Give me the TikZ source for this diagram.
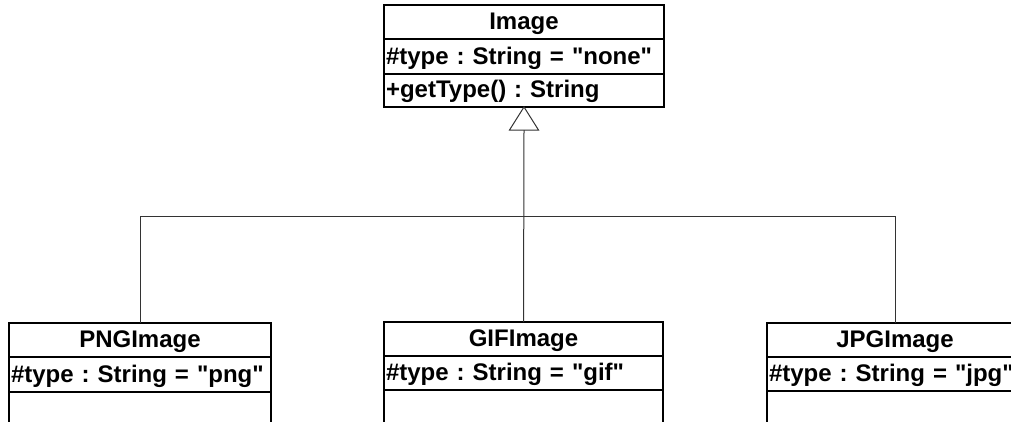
\documentclass[tikz,border=0pt]{standalone}
\usepackage{fontspec}
\setmainfont{Liberation Sans}[Ligatures=TeXOff]
\newcommand{\qq}{\symbol{34}}
\begin{document}
\begin{tikzpicture}[x=1pt,y=-1pt,
  row/.style={draw=black, line width=1.3pt, anchor=north west, inner xsep=2pt, inner ysep=0pt, outer sep=0pt,
    font=\fontsize{24}{26}\selectfont\bfseries\frenchspacing, text depth=9.5pt},
  titlerow/.style={row, align=center},
  attrrow/.style={row, align=left},
  conn/.style={draw=black!80, line width=1pt}]
\useasboundingbox (0,0) rectangle (1011,421);
% Image
\node[titlerow, text width=276pt, text height=24.5pt] (imgname) at (384,5) {Image};
\node[attrrow, text width=276pt, text height=25.5pt] (imgattr) at (imgname.south west) {\#type : String = \qq none\qq};
\node[attrrow, text width=276pt, text height=23.5pt] (imgop) at (imgattr.south west) {+getType() : String};
% PNG
\node[titlerow, text width=258pt, text height=24.5pt] (pngname) at (9,323) {PNGImage};
\node[attrrow, text width=258pt, text height=25.5pt] (pngattr) at (pngname.south west) {\#type : String = \qq png\qq};
\node[attrrow, text width=258pt, text height=25.5pt] (pngop) at (pngattr.south west) {};
% GIF
\node[titlerow, text width=275pt, text height=24.5pt] (gifname) at (384,322) {GIFImage};
\node[attrrow, text width=275pt, text height=24.5pt] (gifattr) at (gifname.south west) {\#type : String = \qq gif\qq};
\node[attrrow, text width=275pt, text height=26.5pt] (gifop) at (gifattr.south west) {};
% JPG
\node[titlerow, text width=252pt, text height=24.5pt] (jpgname) at (767,323) {JPGImage};
\node[attrrow, text width=252pt, text height=24.5pt] (jpgattr) at (jpgname.south west) {\#type : String = \qq jpg\qq};
\node[attrrow, text width=252pt, text height=26.5pt] (jpgop) at (jpgattr.south west) {};
% connectors
\coordinate (tribase) at (524,130);
\coordinate (junc) at (524,216);
\draw[conn] (tribase) -- (gifname.north);
\draw[conn] (pngname.north) -- (pngname.north |- junc) -- (jpgname.north |- junc) -- (jpgname.north);
\draw[conn, fill=white] (imgop.south) -- ([xshift=-14.5pt]tribase) -- ([xshift=14.5pt]tribase) -- cycle;
\end{tikzpicture}
\end{document}
